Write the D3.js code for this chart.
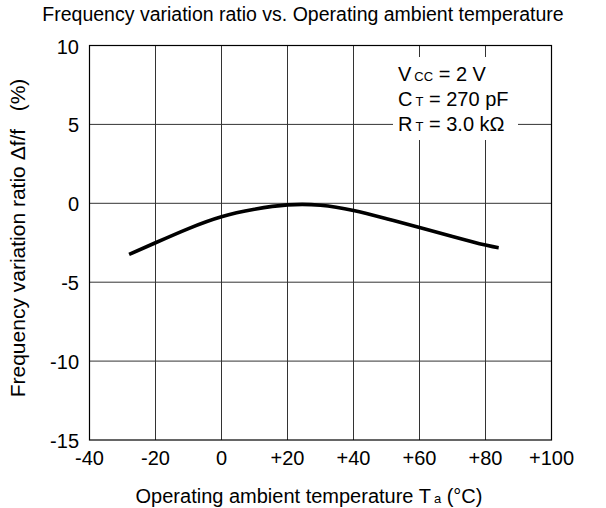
<!DOCTYPE html>
<html>
<head>
<meta charset="utf-8">
<script src="https://cdn.jsdelivr.net/npm/d3@7"></script>
<style>
  body { margin: 0; background: #fff; }
  text { font-family: "Liberation Sans", Arial, sans-serif; fill: #000; }
</style>
</head>
<body>
<svg id="chart"></svg>
<script>
// data
const temps = [-28, -20, -10, 0, 10, 20, 30, 40, 50, 60, 70, 80, 84]
const ratio = [-3.24, -2.5, -1.6, -0.85, -0.38, -0.1, -0.12, -0.46, -0.98, -1.53, -2.1, -2.65, -2.82]
const xTicks = [-40, -20, 0, 20, 40, 60, 80, 100]
const yTicks = [10, 5, 0, -5, -10, -15]
const legendLines = [
    { main: "V", sub: "CC", rest: " = 2 V" },
    { main: "C", sub: "T", rest: " = 270 pF" },
    { main: "R", sub: "T", rest: " = 3.0 kΩ" }
]

const width = 606
const height = 508
const margin = { left: 89.5, right: 55, top: 45.5, bottom: 68 }

const svg = d3.select("#chart")
    .attr("width", width)
    .attr("height", height)

const x = d3.scaleLinear()
    .domain([-40, 100])
    .range([margin.left, width - margin.right + 0.5])

const y = d3.scaleLinear()
    .domain([-15, 10])
    .range([height - margin.bottom, margin.top])

// grid
svg.append("g")
    .selectAll("line")
    .data(xTicks.slice(1, -1))
    .enter()
    .append("line")
    .attr("x1", d => x(d)).attr("x2", d => x(d))
    .attr("y1", y(10)).attr("y2", y(-15))
    .attr("stroke", "#333").attr("stroke-width", 1)

svg.append("g")
    .selectAll("line")
    .data(yTicks.slice(1, -1))
    .enter()
    .append("line")
    .attr("x1", x(-40)).attr("x2", x(100))
    .attr("y1", d => y(d)).attr("y2", d => y(d))
    .attr("stroke", "#333").attr("stroke-width", 1)

// legend box hides the grid behind it
svg.append("rect")
    .attr("x", 393).attr("y", 57)
    .attr("width", 125).attr("height", 83)
    .attr("fill", "#fff")

legendLines.forEach((l, i) => {
    const t = svg.append("text")
        .attr("x", 398)
        .attr("y", 81 + i * 25)
        .style("font-size", "20px")
    t.append("tspan").text(l.main)
    t.append("tspan").attr("dx", 3).style("font-size", "13px").text(l.sub)
    t.append("tspan").text(l.rest)
})

// frame
svg.append("rect")
    .attr("x", x(-40)).attr("y", y(10))
    .attr("width", x(100) - x(-40))
    .attr("height", y(-15) - y(10))
    .attr("fill", "none")
    .attr("stroke", "#000").attr("stroke-width", 1.2)

// curve
const line = d3.line()
    .x((d, i) => x(temps[i]))
    .y(d => y(d))
    .curve(d3.curveNatural)

svg.append("path")
    .datum(ratio)
    .attr("d", line)
    .attr("fill", "none")
    .attr("stroke", "#000")
    .attr("stroke-width", 3.6)

// tick labels
svg.append("g")
    .selectAll("text")
    .data(yTicks)
    .enter()
    .append("text")
    .attr("x", 79)
    .attr("y", d => y(d))
    .attr("dy", "0.4em")
    .attr("text-anchor", "end")
    .style("font-size", "20px")
    .text(d => d)

svg.append("g")
    .selectAll("text")
    .data(xTicks)
    .enter()
    .append("text")
    .attr("x", d => x(d))
    .attr("y", 465)
    .attr("text-anchor", "middle")
    .style("font-size", "20px")
    .text(d => d > 0 ? "+" + d : d)

// titles
svg.append("text")
    .attr("x", 303).attr("y", 21)
    .attr("text-anchor", "middle")
    .style("font-size", "19.5px")
    .text("Frequency variation ratio vs. Operating ambient temperature")

const xl = svg.append("text")
    .attr("x", 309).attr("y", 503)
    .attr("text-anchor", "middle")
    .style("font-size", "20px")
xl.append("tspan").text("Operating ambient temperature T")
xl.append("tspan").attr("dx", 3).style("font-size", "13px").text("a")
xl.append("tspan").text(" (°C)")

svg.append("text")
    .attr("transform", "translate(25,238) rotate(-90)")
    .attr("text-anchor", "middle")
    .style("font-size", "21px")
    .text("Frequency variation ratio Δf/f\u00a0\u00a0\u00a0(%)")
</script>
</body>
</html>
